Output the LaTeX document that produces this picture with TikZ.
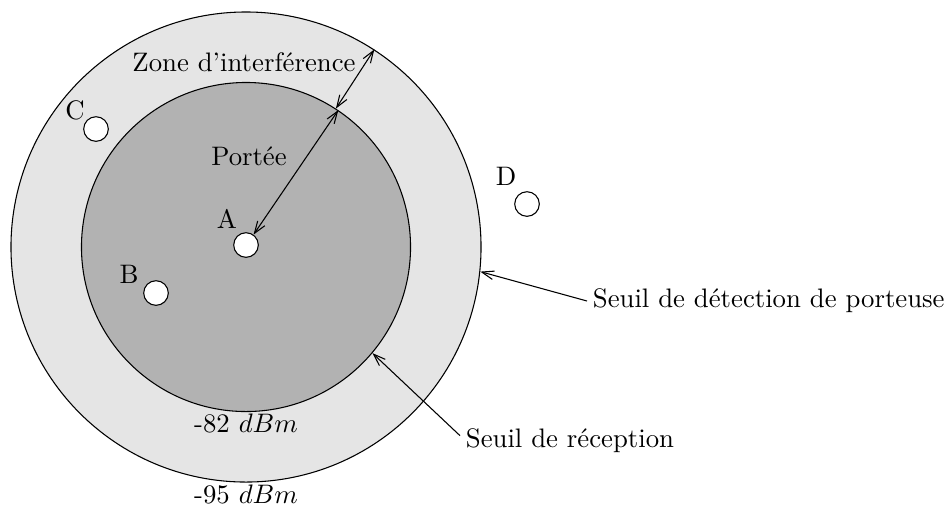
\documentclass[tikz,border=0pt]{standalone}
\usetikzlibrary{arrows.meta}
\begin{document}
\begin{tikzpicture}[x=0.3738pt,y=-0.3738pt,
  zone/.style={circle,draw=black,inner sep=0pt},
  station/.style={circle,draw=black,fill=white,inner sep=0pt,minimum size=9.2pt},
  lbl/.style={inner sep=2pt},
  conn/.style={draw=black,>={Straight Barb[length=4.5pt,width=3.2pt]}}]
\useasboundingbox (0,0) rectangle (952,507);
\node[zone,fill=black!10,minimum size=175.7pt] (outer) at (246,247) {};
\node[zone,fill=black!30,minimum size=123pt] (inner) at (246,247) {};
\node[station] (A) at (246,245) {};
\node[station] (B) at (156,293) {};
\node[station] (C) at (96,129) {};
\node[station] (D) at (527,204) {};
\node[lbl] (lA) at (227,219) {A};
\node[lbl] (lB) at (129,274) {B};
\node[lbl] (lC) at (75,110) {C};
\node[lbl] (lD) at (506,176) {D};
\node[lbl] (zone) at (244,62) {Zone d'interférence};
\node[lbl] (portee) at (249,156) {Portée};
\node[lbl] (m82) at (246,423) {-82 $dBm$};
\node[lbl] (m95) at (246,494) {-95 $dBm$};
\node[lbl,anchor=west] (detect) at (587,301) {Seuil de détection de porteuse};
\node[lbl,anchor=west] (recep) at (460,441) {Seuil de réception};
\draw[conn,<->] (outer.57) -- (inner.57);
\draw[conn,<->] (inner.56) -- (A.54);
\draw[conn,->] (detect.west) -- (outer.-6);
\draw[conn,->] ([yshift=2pt]recep.west) -- (inner.-40);
\end{tikzpicture}
\end{document}
